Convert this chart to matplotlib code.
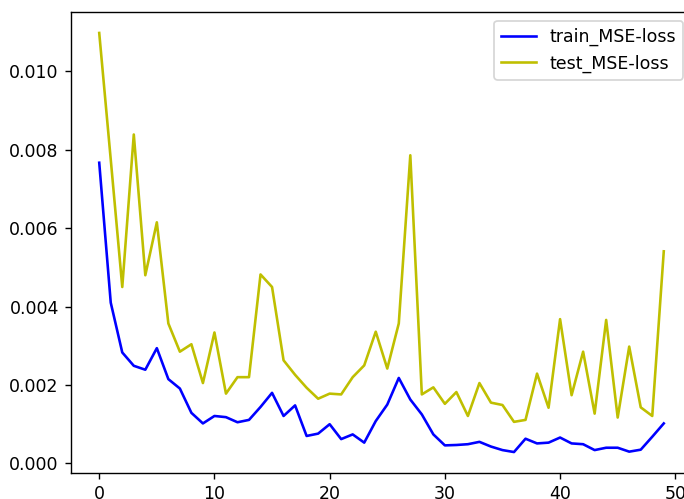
import matplotlib
matplotlib.use("Agg")
import matplotlib.pyplot as plt

# per-epoch losses
epochs = list(range(50))
train_loss = [0.00767, 0.00410, 0.00283, 0.00249, 0.00239, 0.00294, 0.00215, 0.00191, 0.00129, 0.00102,
              0.00121, 0.00118, 0.00105, 0.00111, 0.00144, 0.00180, 0.00121, 0.00148, 0.00070, 0.00076,
              0.00100, 0.00062, 0.00074, 0.00053, 0.00108, 0.00150, 0.00218, 0.00163, 0.00125, 0.00074,
              0.00046, 0.00047, 0.00049, 0.00055, 0.00043, 0.00034, 0.00029, 0.00063, 0.00051, 0.00053,
              0.00066, 0.00051, 0.00049, 0.00034, 0.00040, 0.00040, 0.00030, 0.00035, 0.00068, 0.00102]
test_loss = [0.01098, 0.00775, 0.00450, 0.00839, 0.00480, 0.00615, 0.00357, 0.00285, 0.00304, 0.00205,
             0.00334, 0.00178, 0.00220, 0.00220, 0.00482, 0.00450, 0.00263, 0.00226, 0.00193, 0.00165,
             0.00178, 0.00176, 0.00220, 0.00250, 0.00336, 0.00242, 0.00357, 0.00786, 0.00176, 0.00194,
             0.00152, 0.00182, 0.00121, 0.00205, 0.00155, 0.00149, 0.00106, 0.00111, 0.00229, 0.00142,
             0.00368, 0.00174, 0.00285, 0.00127, 0.00366, 0.00117, 0.00298, 0.00143, 0.00121, 0.00541]

# the original looks like a default figure saved at ~125 dpi and cropped
DPI = 125
fig = plt.figure(figsize=(684 / DPI, 499 / DPI), dpi=DPI)
# axes runs past the right edge like the cropped original
ax = fig.add_axes([71 / 684, 26 / 499, 621 / 684, 461 / 499])
ax.plot(epochs, train_loss, 'b', label='train_MSE-loss')
ax.plot(epochs, test_loss, 'y', label='test_MSE-loss')
ax.legend(loc='upper right')
ax.spines['right'].set_visible(False)  # cut off in the original

fig.savefig('out.png', dpi=DPI)
